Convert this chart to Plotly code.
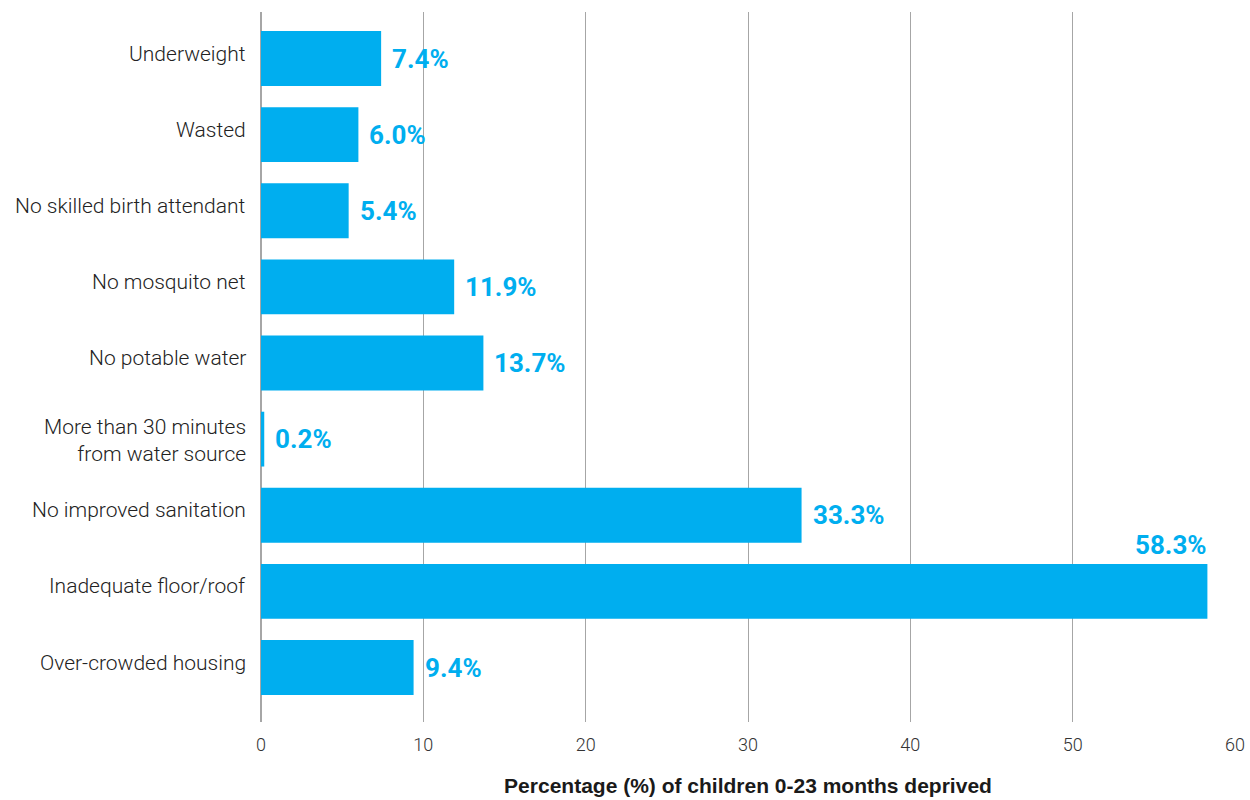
import plotly.graph_objects as go

categories = [
    "Underweight",
    "Wasted",
    "No skilled birth attendant",
    "No mosquito net",
    "No potable water",
    "More than 30 minutes<br>from water source",
    "No improved sanitation",
    "Inadequate floor/roof",
    "Over-crowded housing",
]
values = [7.4, 6.0, 5.4, 11.9, 13.7, 0.2, 33.3, 58.3, 9.4]
value_labels = ["7.4%", "6.0%", "5.4%", "11.9%", "13.7%", "0.2%", "33.3%", "58.3%", "9.4%"]
x_ticks = [0, 10, 20, 30, 40, 50, 60]

BLUE = "#00AEEF"
positions = list(range(len(categories)))

fig = go.Figure()
fig.add_trace(go.Bar(
    x=values, y=positions, orientation="h",
    marker=dict(color=BLUE, line=dict(width=0)),
    width=0.72, hoverinfo="skip",
))

# category labels
for i, cat in enumerate(categories):
    two_line = "<br>" in cat
    fig.add_annotation(x=0, xref="paper", y=i, yref="y", text=cat, showarrow=False,
                       xanchor="right", yanchor="middle", align="right",
                       xshift=-13, yshift=(-1 if two_line else 5),
                       font=dict(family="Roboto", size=21, color="#222222", weight=300))

max_i = values.index(max(values))
for i, (v, lab) in enumerate(zip(values, value_labels)):
    if i == max_i:
        fig.add_annotation(x=v, y=i, text=lab, showarrow=False,
                           xanchor="right", yanchor="middle", yshift=46, xshift=2,
                           font=dict(family="Roboto", size=26, color=BLUE, weight="bold"))
    else:
        fig.add_annotation(x=v, y=i, text=lab, showarrow=False,
                           xanchor="left", yanchor="middle", xshift=9, yshift=0,
                           font=dict(family="Roboto", size=26, color=BLUE, weight="bold"))

fig.update_layout(
    width=1250, height=800,
    margin=dict(l=261, r=15, t=12, b=78, autoexpand=False),
    plot_bgcolor="white", paper_bgcolor="white",
    showlegend=False,
    xaxis=dict(
        range=[0, 60], tickvals=x_ticks, showgrid=True, gridcolor="#a6a6a6", gridwidth=1,
        zeroline=True, zerolinecolor="#a6a6a6", zerolinewidth=1.5,
        showline=False, ticks="", ticklabelstandoff=10, automargin=False,
        tickfont=dict(family="Roboto", size=18, color="#333333", weight=300),
        title=dict(text="<b>Percentage (%) of children 0-23 months deprived</b>",
                   font=dict(family="Liberation Sans", size=21, color="#1a1a1a"), standoff=24),
    ),
    yaxis=dict(
        range=[8.716, -0.611], tickvals=positions, showticklabels=False,
        showgrid=False, zeroline=False, showline=False, ticks="", automargin=False,
    ),
)

fig.write_html("out.html")
